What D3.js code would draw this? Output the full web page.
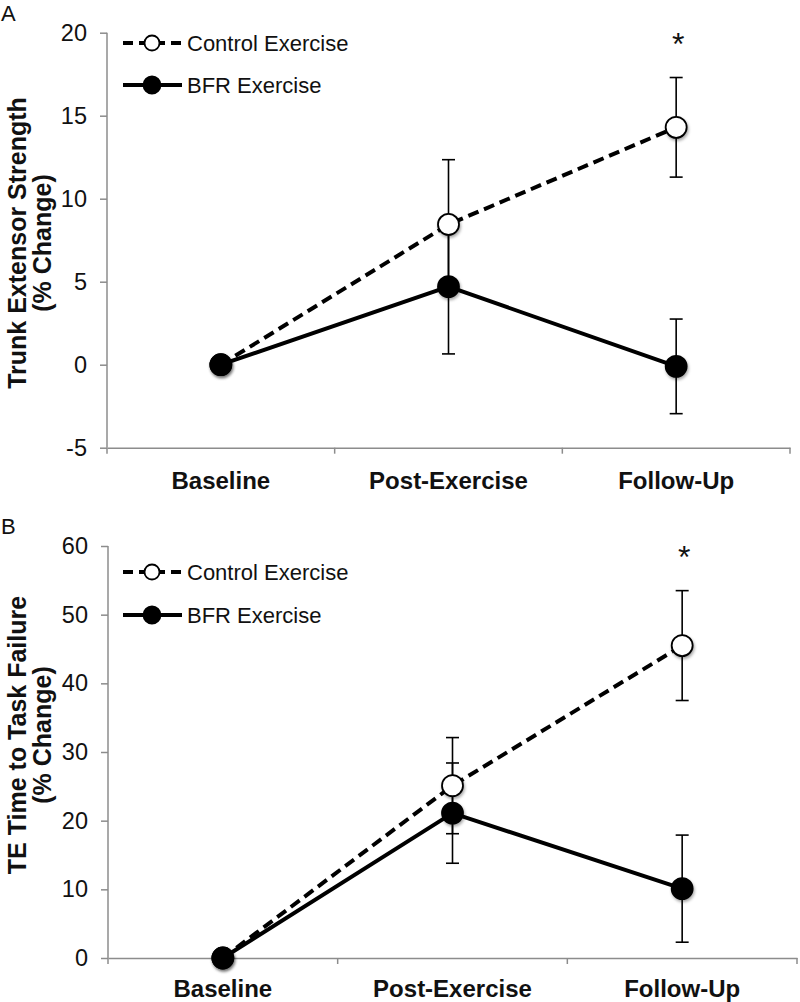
<!DOCTYPE html>
<html><head><meta charset="utf-8">
<script src="https://cdn.jsdelivr.net/npm/d3@7"></script>
<style>
html,body{margin:0;padding:0;background:#fff;}
svg{display:block;font-family:"Liberation Sans",Arial,sans-serif;}
</style></head>
<body>
<svg id="chart" width="800" height="1002"></svg>
<script>
// ---- data ----
const categories = ["Baseline", "Post-Exercise", "Follow-Up"];
const seriesNames = ["Control Exercise", "BFR Exercise"];

const controlA = [0, 8.45, 14.3];
const controlAErr = [0, 3.9, 3.0];
const bfrA = [0, 4.7, -0.1];
const bfrAErr = [0, 4.05, 2.85];
const yTicksA = [-5, 0, 5, 10, 15, 20];
const sigA = [false, false, true];

const controlB = [0, 25.1, 45.5];
const controlBErr = [0, 7.0, 8.0];
const bfrB = [0, 21.1, 10.1];
const bfrBErr = [0, 7.3, 7.8];
const yTicksB = [0, 10, 20, 30, 40, 50, 60];
const sigB = [false, false, true];

const titleA = ["Trunk Extensor Strength", "(% Change)"];
const titleB = ["TE Time to Task Failure", "(% Change)"];

// ---- drawing ----
const svg = d3.select("#chart");
const defs = svg.append("defs");
const f = defs.append("filter").attr("id", "shadow").attr("x", "-50%").attr("y", "-50%").attr("width", "200%").attr("height", "200%");
f.append("feDropShadow").attr("dx", 1).attr("dy", 2).attr("stdDeviation", 1.8).attr("flood-color", "#000").attr("flood-opacity", 0.35);

const axisColor = "#8c8c8c";

function panel(cfg) {
  const g = svg.append("g");
  const x = d3.scaleBand().domain(categories).range([cfg.x0, cfg.x1]);
  const y = d3.scaleLinear().domain([cfg.yTicks[0], cfg.yTicks[cfg.yTicks.length - 1]]).range([cfg.yBottom, cfg.yTop]);
  const cx = c => x(c) + x.bandwidth() / 2;

  // panel letter
  g.append("text").attr("x", 1).attr("y", cfg.letterY).attr("font-size", 22).attr("fill", "#111").text(cfg.letter);

  // y axis
  const ya = g.append("g").attr("transform", `translate(${cfg.x0},0)`)
    .call(d3.axisLeft(y).tickValues(cfg.yTicks).tickSize(7).tickPadding(13).tickFormat(d => String(d)));
  ya.select(".domain").attr("stroke", axisColor).attr("stroke-width", 1.5).attr("d", `M0,${cfg.yBottom}V${cfg.yTop}`);
  ya.selectAll(".tick line").attr("stroke", axisColor).attr("stroke-width", 1.5);
  ya.selectAll(".tick text").attr("font-size", 23.5).attr("fill", "#111").attr("font-family", "Liberation Sans, Arial, sans-serif");

  // x axis
  const xa = g.append("g").attr("transform", `translate(0,${cfg.yBottom})`)
    .call(d3.axisBottom(x).tickSize(0).tickPadding(0));
  xa.select(".domain").attr("stroke", axisColor).attr("stroke-width", 1.5);
  xa.selectAll(".tick text").remove();
  const bounds = categories.map(c => x(c)).concat([cfg.x1]);
  xa.selectAll("line.bnd").data(bounds).join("line").attr("class", "bnd")
    .attr("x1", d => d).attr("x2", d => d).attr("y1", 0).attr("y2", 6)
    .attr("stroke", axisColor).attr("stroke-width", 1.5);
  g.selectAll("text.cat").data(categories).join("text").attr("class", "cat")
    .attr("x", d => cx(d)).attr("y", cfg.catY).attr("text-anchor", "middle").attr("dominant-baseline", "central")
    .attr("font-size", 24).attr("font-weight", "bold").attr("fill", "#111").text(d => d);

  // y title
  const tX = [cfg.titleX1, cfg.titleX2];
  cfg.title.forEach((t, i) => {
    g.append("text").attr("transform", `translate(${tX[i]},${cfg.titleY}) rotate(-90)`)
      .attr("text-anchor", "middle").attr("dominant-baseline", "central")
      .attr("font-size", 25).attr("font-weight", "bold").attr("fill", "#111").text(t);
  });

  const series = [
    {vals: cfg.control, err: cfg.controlErr, dash: "11,6", fill: "#fff"},
    {vals: cfg.bfr, err: cfg.bfrErr, dash: null, fill: "#000"}
  ];

  // error bars
  series.forEach(s => {
    const pts = categories.map((c, i) => ({c, v: s.vals[i], e: s.err[i]})).filter(p => p.e > 0);
    const eg = g.append("g").attr("stroke", "#000").attr("stroke-width", 1.6);
    eg.selectAll("line.v").data(pts).join("line").attr("class", "v")
      .attr("x1", p => cx(p.c)).attr("x2", p => cx(p.c)).attr("y1", p => y(p.v - p.e)).attr("y2", p => y(p.v + p.e));
    eg.selectAll("line.t").data(pts).join("line").attr("class", "t")
      .attr("x1", p => cx(p.c) - 6.5).attr("x2", p => cx(p.c) + 6.5).attr("y1", p => y(p.v + p.e)).attr("y2", p => y(p.v + p.e));
    eg.selectAll("line.b").data(pts).join("line").attr("class", "b")
      .attr("x1", p => cx(p.c) - 6.5).attr("x2", p => cx(p.c) + 6.5).attr("y1", p => y(p.v - p.e)).attr("y2", p => y(p.v - p.e));
  });

  // lines
  const line = d3.line().x((d, i) => cx(categories[i])).y(d => y(d));
  series.forEach(s => {
    g.append("path").datum(s.vals).attr("d", line).attr("fill", "none").attr("stroke", "#000")
      .attr("stroke-width", 4).attr("stroke-dasharray", s.dash);
  });

  // markers (BFR drawn on top)
  series.forEach(s => {
    g.selectAll(null).data(s.vals).join("circle")
      .attr("cx", (d, i) => cx(categories[i])).attr("cy", d => y(d)).attr("r", 10.5)
      .attr("fill", s.fill).attr("stroke", "#000").attr("stroke-width", 1.8).attr("filter", "url(#shadow)");
  });

  // significance asterisks
  g.selectAll("text.sig").data(categories.filter((c, i) => cfg.sig[i])).join("text").attr("class", "sig")
    .attr("x", d => cx(d) + 2).attr("y", cfg.sigY).attr("text-anchor", "middle")
    .attr("font-size", 32).attr("fill", "#111").text("*");

  // legend
  const lg = g.append("g");
  series.forEach((s, i) => {
    const ly = cfg.legY[i];
    lg.append("line").attr("x1", 123).attr("x2", 182).attr("y1", ly).attr("y2", ly)
      .attr("stroke", "#000").attr("stroke-width", 4).attr("stroke-dasharray", s.dash ? "10,6" : null);
    lg.append("circle").attr("cx", 152).attr("cy", ly).attr("r", i === 0 ? 7.5 : 8.5)
      .attr("fill", s.fill).attr("stroke", "#000").attr("stroke-width", 1.8);
    lg.append("text").attr("x", 187).attr("y", ly).attr("dominant-baseline", "central")
      .attr("font-size", 22).attr("fill", "#111").text(seriesNames[i]);
  });
}

panel({
  letter: "A", letterY: 21,
  x0: 107, x1: 790, yTop: 32.7, yBottom: 447.7, yTicks: yTicksA,
  control: controlA, controlErr: controlAErr, bfr: bfrA, bfrErr: bfrAErr,
  sig: sigA, sigY: 55, catY: 480,
  title: titleA, titleX1: 17, titleX2: 42, titleY: 243,
  legY: [43, 85]
});

panel({
  letter: "B", letterY: 534,
  x0: 108, x1: 797, yTop: 546, yBottom: 958, yTicks: yTicksB,
  control: controlB, controlErr: controlBErr, bfr: bfrB, bfrErr: bfrBErr,
  sig: sigB, sigY: 568, catY: 988,
  title: titleB, titleX1: 17, titleX2: 42, titleY: 735,
  legY: [572, 615]
});
</script>
</body></html>
